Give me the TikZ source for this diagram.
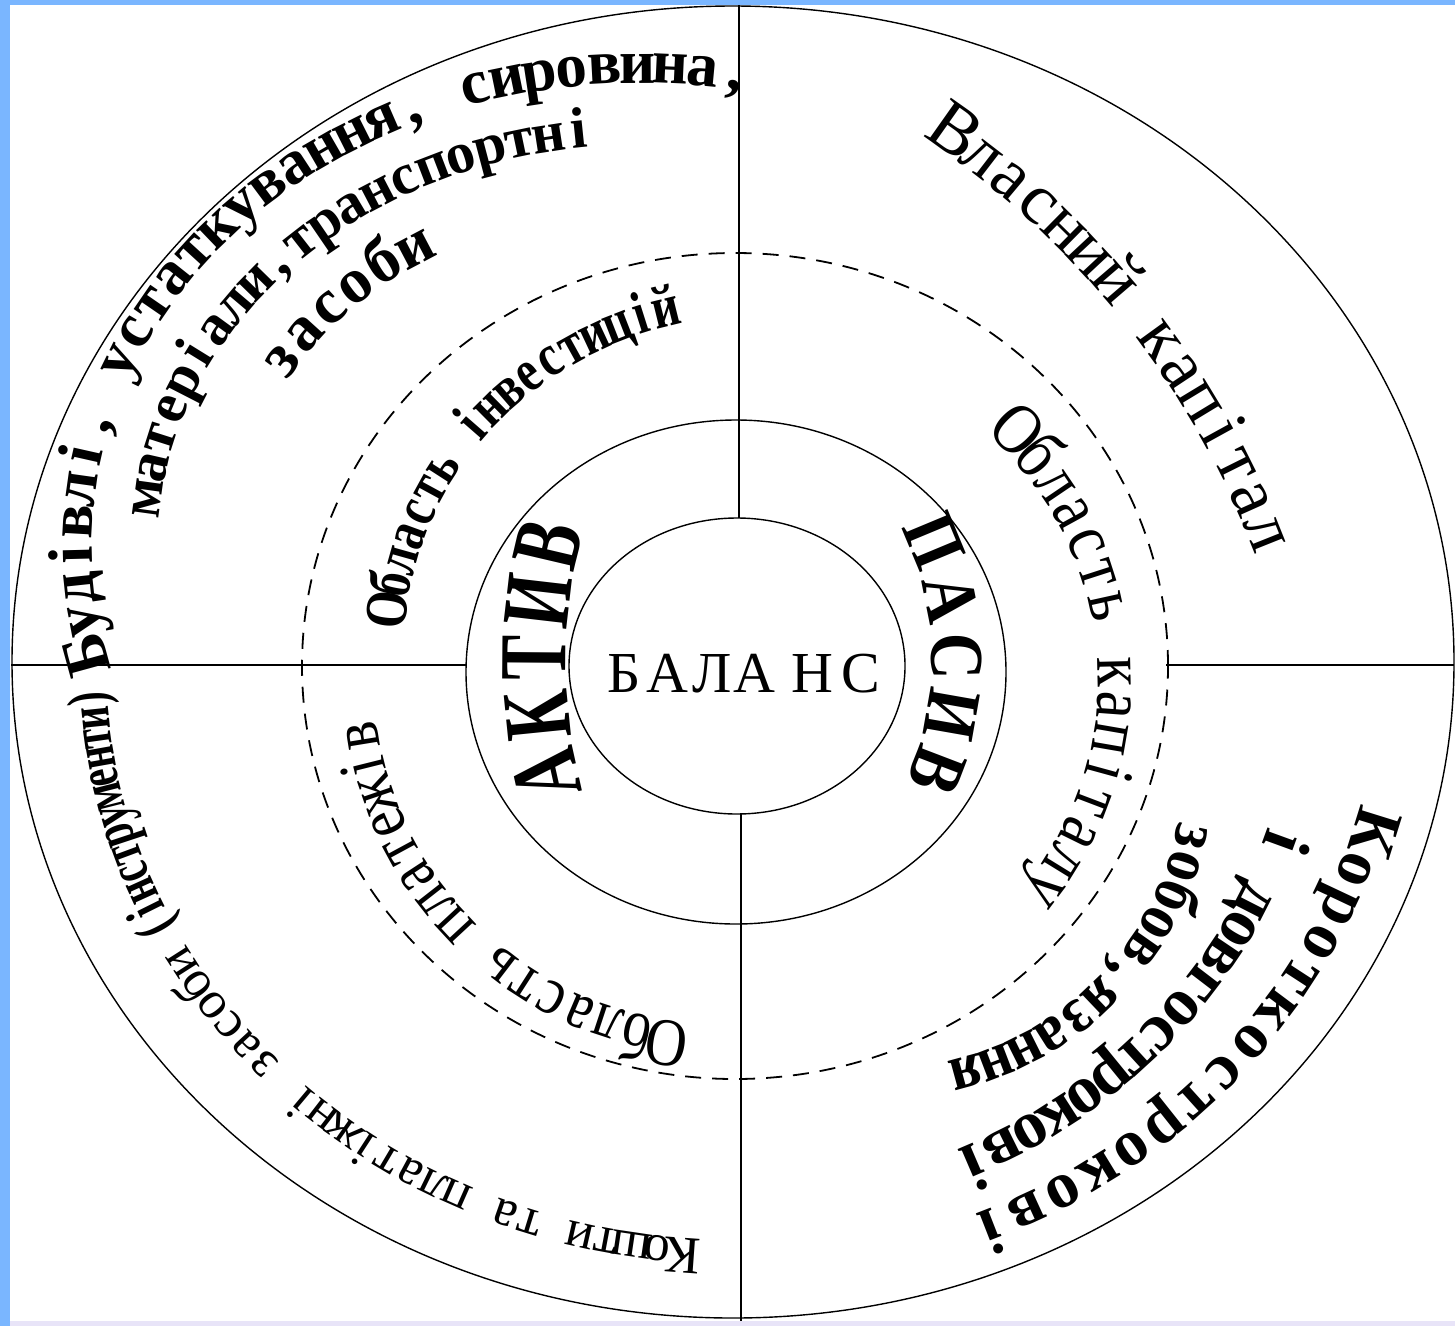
\documentclass[tikz,border=0pt]{standalone}
\usepackage{fontspec}
\setmainfont{Liberation Serif}
\newfontfamily\serifC[FakeStretch=0.7]{Liberation Serif}
\newfontfamily\serifD[FakeStretch=0.85]{Liberation Serif}
\newfontfamily\serifE[FakeStretch=0.8]{Liberation Serif}
\newfontfamily\serifF[FakeStretch=0.9]{Liberation Serif}
\newfontfamily\serifG[FakeStretch=0.85]{Liberation Serif}
\newfontfamily\serifI[FakeStretch=0.7]{Liberation Serif}
\newcommand\myfs[1]{\fontsize{#1}{#1}\selectfont}
\newcommand\atplace[4]{\node[rotate=#3, anchor=base, inner sep=0pt, outer sep=0pt] at (#1,#2) {#4};}
\ExplSyntaxOn
\fp_new:N \l_at_t_fp
\fp_new:N \l_at_tm_fp
\fp_new:N \l_at_w_fp
\fp_new:N \l_at_W_fp
\fp_new:N \l_at_L_fp
\fp_new:N \l_at_gap_fp
\int_new:N \l_at_n_int
\box_new:N \l_at_box
\tl_new:N \l_at_x_tl
\tl_new:N \l_at_y_tl
\tl_new:N \l_at_a_tl
\cs_new:Npn \at_speed:nnn #1#2#3
  { sqrt( ((#1)*sind(#3))*((#1)*sind(#3)) + ((#2)*cosd(#3))*((#2)*cosd(#3)) ) }
\cs_new_protected:Npn \at_measure:nn #1#2
  {
    \str_if_eq:nnTF {#2} {*}
      { \hbox_set:Nn \l_at_box { #1 \c_space_tl } }
      { \hbox_set:Nn \l_at_box { #1 #2 } }
    \fp_set:Nn \l_at_w_fp { \dim_to_fp:n { \box_wd:N \l_at_box } }
  }
% #1 cx, #2 cy, #3 rx, #4 ry, #5 start angle, #6 end angle, #7 font, #8 text (* = space)
\cs_new_protected:Npn \arctext #1#2#3#4#5#6#7#8
  {
    \fp_zero:N \l_at_W_fp
    \int_zero:N \l_at_n_int
    \tl_map_inline:nn {#8}
      {
        \at_measure:nn {#7} {##1}
        \fp_add:Nn \l_at_W_fp { \l_at_w_fp }
        \int_incr:N \l_at_n_int
      }
    \fp_zero:N \l_at_L_fp
    \int_step_inline:nn { 200 }
      {
        \fp_add:Nn \l_at_L_fp
          { \at_speed:nnn {#3} {#4} { (#5) + ((#6) - (#5)) * (##1 - 0.5) / 200 } * abs((#6) - (#5)) / 200 * pi / 180 }
      }
    \fp_set:Nn \l_at_gap_fp { (\l_at_L_fp - \l_at_W_fp) / (\int_use:N \l_at_n_int - 1) }
    \fp_set:Nn \l_at_t_fp { #5 }
    \tl_map_inline:nn {#8}
      {
        \at_measure:nn {#7} {##1}
        \fp_set:Nn \l_at_tm_fp
          { \l_at_t_fp - (\l_at_w_fp / 2) / ( \at_speed:nnn {#3} {#4} { \l_at_t_fp } ) * 180 / pi }
        \str_if_eq:nnF {##1} {*}
          {
            \tl_set:Nx \l_at_x_tl { \fp_eval:n { round( (#1) + (#3) * cosd(\l_at_tm_fp), 2) } }
            \tl_set:Nx \l_at_y_tl { \fp_eval:n { round( (#2) + (#4) * sind(\l_at_tm_fp), 2) } }
            \tl_set:Nx \l_at_a_tl { \fp_eval:n { round( atand( -(#4) * cosd(\l_at_tm_fp), (#3) * sind(\l_at_tm_fp) ), 2) } }
            \atplace {\l_at_x_tl} {\l_at_y_tl} {\l_at_a_tl} {#7 ##1}
          }
        \fp_set:Nn \l_at_t_fp
          { \l_at_tm_fp - (\l_at_w_fp / 2 + \l_at_gap_fp) / ( \at_speed:nnn {#3} {#4} { \l_at_tm_fp } ) * 180 / pi }
      }
  }
\ExplSyntaxOff
\definecolor{stripblue}{RGB}{122,182,255}
\definecolor{striplav}{RGB}{232,228,248}
\begin{document}
\begin{tikzpicture}[x=1pt,y=1pt,
  ring/.style={line width=1.4pt},
  rule/.style={line width=1.8pt},
  dashring/.style={line width=1.8pt, dash pattern=on 16pt off 11pt}]
\useasboundingbox (0,0) rectangle (1455,-1326);
\fill[white] (0,0) rectangle (1455,-1326);
\fill[stripblue] (0,0) rectangle (10,-1326);
\fill[stripblue] (0,0) rectangle (1455,-5);
\fill[striplav] (10,-1321) rectangle (1455,-1326);

% rings
\coordinate (Co) at (733,-662);
\coordinate (Cd) at (735,-666);
\coordinate (Cm) at (736,-672);
\coordinate (Ci) at (737,-666);
\draw[ring] (Co) ellipse [x radius=721, y radius=656];
\draw[dashring] (Cd) ellipse [x radius=433, y radius=413];
\draw[ring] (Cm) ellipse [x radius=270, y radius=252];
\draw[ring] (Ci) ellipse [x radius=168, y radius=148];

% axes
\coordinate (vt1) at (739,-5);   \coordinate (vt2) at (739,-518);
\coordinate (vb1) at (741,-813); \coordinate (vb2) at (741,-1321);
\coordinate (hl1) at (11,-665);  \coordinate (hl2) at (466,-665);
\coordinate (hr1) at (1166,-665);\coordinate (hr2) at (1454,-665);
\draw[rule] (vt1) -- (vt2);
\draw[rule] (vb1) -- (vb2);
\draw[rule] (hl1) -- (hl2);
\draw[rule] (hr1) -- (hr2);

% centre
\node[inner sep=0pt, anchor=base west, font=\myfs{58}] (balans) at (607,-692)
  {Б\kern6ptА\kern4ptЛ\kern2ptА\kern16ptН\kern8ptС};

% upper left
\arctext{640}{-545}{548}{462}{193}{80.5}{\bfseries\myfs{63}}{Будівлі,*устаткування,*сировина,}
\arctext{640}{-545}{482}{400}{173.5}{97.4}{\bfseries\myfs{58}}{матеріали,транспортні}
\arctext{640}{-545}{405}{335}{148.5}{122.7}{\bfseries\myfs{64}}{засоби}
\arctext{760}{-650}{356}{335}{173.5}{104.8}{\serifE\bfseries\myfs{60}}{Область*інвестицій}

% AKTIV / PASIV
\arctext{736}{-662}{170}{294}{201}{158}{\serifC\bfseries\myfs{96}}{АКТИВ}
\arctext{736}{-660}{196}{240}{27}{-25}{\serifD\bfseries\myfs{76}}{ПАСИВ}

% upper right
\arctext{438}{-864}{874}{874}{54.8}{21.8}{\myfs{72}}{Власний*капітал}
\arctext{736}{-680}{362}{343}{43}{-35.5}{\serifG\myfs{72}}{Область*капіталу}

% lower right
\arctext{733}{-662}{646}{596}{-16}{-67}{\bfseries\myfs{66}}{Короткострокові}
\arctext{733}{-662}{563}{532}{-19}{-65.5}{\bfseries\myfs{68}}{і*довгострокові}
\arctext{884}{-769}{299}{299}{-12.3}{-74.8}{\serifF\bfseries\myfs{66}}{зобов,язання}

% lower left
\arctext{722}{-677}{348}{348}{261.3}{189.2}{\serifG\myfs{68}}{Область*платежів}
\arctext{733}{-662}{627}{578}{265.5}{210.5}{\myfs{53}}{Кошти*та*платіжні*засоби}
\arctext{733}{-662}{627}{578}{206.5}{183.5}{\serifI\bfseries\myfs{58}}{(інструменти)}
\end{tikzpicture}
\end{document}
